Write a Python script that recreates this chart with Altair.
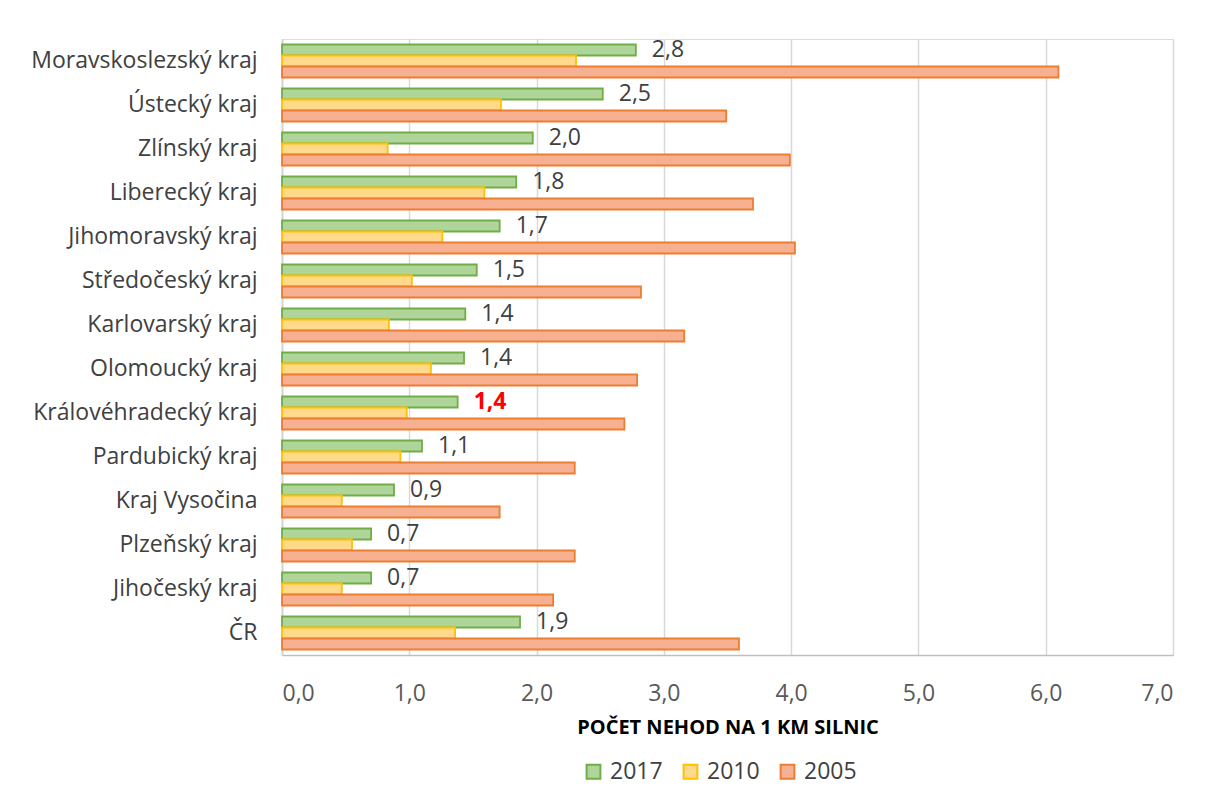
import altair as alt
import pandas as pd

regions = [
    "Moravskoslezský kraj", "Ústecký kraj", "Zlínský kraj", "Liberecký kraj",
    "Jihomoravský kraj", "Středočeský kraj", "Karlovarský kraj", "Olomoucký kraj",
    "Královéhradecký kraj", "Pardubický kraj", "Kraj Vysočina", "Plzeňský kraj",
    "Jihočeský kraj", "ČR",
]
v2017 = [2.78, 2.52, 1.97, 1.84, 1.71, 1.53, 1.44, 1.43, 1.38, 1.10, 0.88, 0.70, 0.70, 1.87]
v2010 = [2.31, 1.72, 0.83, 1.59, 1.26, 1.02, 0.84, 1.17, 0.98, 0.93, 0.47, 0.55, 0.47, 1.36]
v2005 = [6.10, 3.49, 3.99, 3.70, 4.03, 2.82, 3.16, 2.79, 2.69, 2.30, 1.71, 2.30, 2.13, 3.59]
years = ["2017", "2010", "2005"]
fills = ["#B0D59A", "#FFD98C", "#F6B192"]
strokes = ["#70AD47", "#FFC000", "#ED7D31"]
highlight = "Královéhradecký kraj"

rows = []
for y, vals in zip(years, [v2017, v2010, v2005]):
    for r, v in zip(regions, vals):
        rows.append({"region": r, "year": y, "value": v})
df = pd.DataFrame(rows)

FONT = "Open Sans"
FS = 23

yenc = alt.Y("region:N", sort=regions, title=None,
             scale=alt.Scale(paddingInner=0.25, paddingOuter=0.125),
             axis=alt.Axis(labelFontSize=FS, labelColor="#404040", labelFont=FONT,
                           labelLimit=0, ticks=False, labelPadding=25,
                           domainColor="#d0d0d0", domainWidth=1.5))
yoff = alt.YOffset("year:N", sort=years,
                   scale=alt.Scale(domain=years, paddingInner=0, paddingOuter=0))

xenc = alt.X("value:Q", scale=alt.Scale(domain=[0, 7]),
             title="POČET NEHOD NA 1 KM SILNIC",
             axis=alt.Axis(values=[0, 1, 2, 3, 4, 5, 6, 7],
                           labelExpr="replace(format(datum.value, '.1f'), '.', ',')",
                           labelFontSize=FS, labelColor="#595959", labelFont=FONT,
                           ticks=False, labelPadding=27, domainColor="#bfbfbf",
                           domainWidth=1.5, gridColor="#d9d9d9", gridWidth=1.5,
                           titleFont=FONT, titleFontSize=20, titleFontWeight="bold",
                           titleColor="#000000", titlePadding=12))

legend_cfg = dict(title=None, orient="none", direction="horizontal",
                  legendX=300, legendY=721,
                  symbolType="square", symbolSize=190,
                  symbolStrokeWidth=2, labelFontSize=FS,
                  labelColor="#404040", labelFont=FONT,
                  columnPadding=16, labelOffset=5)

bars = alt.Chart(df).mark_bar(strokeWidth=1.8).encode(
    x=xenc,
    y=yenc,
    yOffset=yoff,
    fill=alt.Fill("year:N", sort=years,
                  scale=alt.Scale(domain=years, range=fills),
                  legend=alt.Legend(**legend_cfg)),
    stroke=alt.Stroke("year:N", sort=years,
                      scale=alt.Scale(domain=years, range=strokes),
                      legend=alt.Legend(**legend_cfg)),
)

base_text = alt.Chart(df).transform_filter(alt.datum.year == "2017").transform_calculate(
    label="replace(format(datum.value, '.1f'), '.', ',')"
)

labels = base_text.transform_filter(alt.datum.region != highlight).mark_text(
    align="left", baseline="middle", dx=16, fontSize=FS, color="#404040", font=FONT
).encode(x="value:Q", y=alt.Y("region:N", sort=regions), yOffset=yoff, text="label:N")

labels_hi = base_text.transform_filter(alt.datum.region == highlight).mark_text(
    align="left", baseline="middle", dx=16, fontSize=FS, color="#FF0000",
    fontWeight="bold", font=FONT
).encode(x="value:Q", y=alt.Y("region:N", sort=regions), yOffset=yoff, text="label:N")

chart = alt.layer(bars, labels, labels_hi).properties(
    width=891, height=616,
    autosize=alt.AutoSizeParams(type="none"),
    padding={"left": 274, "top": 31, "right": 28, "bottom": 130},
).configure_view(stroke="#d0d0d0", strokeWidth=1.5).configure(font=FONT)

chart.save("out.html", embed_options={"renderer": "svg", "actions": False})
